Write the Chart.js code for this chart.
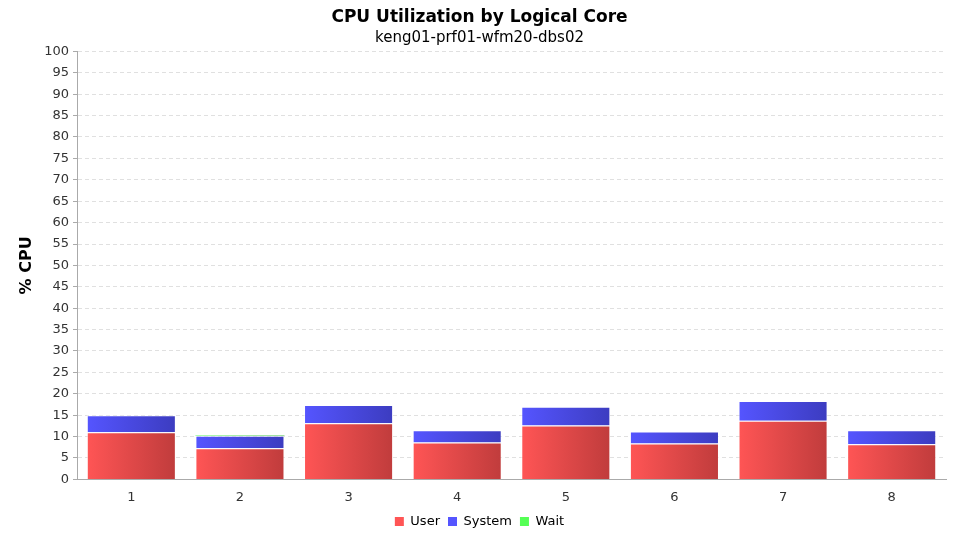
<!DOCTYPE html>
<html>
<head>
<meta charset="utf-8">
<script src="https://cdn.jsdelivr.net/npm/chart.js@4/dist/chart.umd.min.js"></script>
<style>
  body { margin: 0; background: #fff; }
  #wrap { width: 960px; height: 540px; }
</style>
</head>
<body>
<div id="wrap"><canvas id="cpu-chart"></canvas></div>
<script>
// data
const cores = ["1", "2", "3", "4", "5", "6", "7", "8"];
const userPct = [11.0, 7.3, 13.1, 8.6, 12.6, 8.4, 13.7, 8.2];
const systemPct = [4.0, 2.9, 4.3, 2.9, 4.4, 2.8, 4.6, 3.3];
const waitPct = [0, 0.1, 0, 0, 0, 0, 0, 0];

const FONT = "'DejaVu Sans', sans-serif";

// per-bar horizontal gradient, light on the left, dark on the right
const barGradient = {
  id: "barGradient",
  beforeDatasetsDraw(chart) {
    const ctx = chart.ctx;
    chart.data.datasets.forEach((ds, i) => {
      const meta = chart.getDatasetMeta(i);
      meta.data.forEach((el) => {
        const g = ctx.createLinearGradient(el.x - el.width / 2, 0, el.x + el.width / 2, 0);
        g.addColorStop(0, ds.lightColor);
        g.addColorStop(1, ds.darkColor);
        // options are shared between bars, so give each bar its own copy
        el.options = Object.assign({}, el.options, { backgroundColor: g });
      });
    });
  },
};

new Chart(document.getElementById("cpu-chart"), {
  type: "bar",
  data: {
    labels: cores,
    datasets: [
      {
        label: "User",
        data: userPct,
        backgroundColor: "#ff5555",
        lightColor: "#ff5555",
        darkColor: "#c03c3c",
        borderColor: "rgba(255,255,255,0.6)",
        borderWidth: 1,
      },
      {
        label: "System",
        data: systemPct,
        backgroundColor: "#5555ff",
        lightColor: "#5555ff",
        darkColor: "#3c3cc0",
        borderColor: "rgba(255,255,255,0.6)",
        borderWidth: 1,
      },
      {
        label: "Wait",
        data: waitPct,
        backgroundColor: "#55ff55",
        lightColor: "#55ff55",
        darkColor: "#3cc03c",
        borderWidth: 0,
      },
    ],
  },
  options: {
    responsive: true,
    maintainAspectRatio: false,
    animation: false,
    layout: { padding: { left: 13, right: 14, top: 5, bottom: 2 } },
    datasets: { bar: { barPercentage: 0.82, categoryPercentage: 1.0 } },
    plugins: {
      title: {
        display: true,
        text: "CPU Utilization by Logical Core",
        color: "#000",
        font: { family: FONT, size: 17, weight: "bold" },
        padding: { top: 2, bottom: 0 },
      },
      subtitle: {
        display: true,
        text: "keng01-prf01-wfm20-dbs02",
        color: "#000",
        font: { family: FONT, size: 15 },
        padding: { top: 2, bottom: 4 },
      },
      legend: {
        position: "bottom",
        labels: {
          boxWidth: 9,
          boxHeight: 9,
          color: "#222",
          font: { family: FONT, size: 13 },
          padding: 8,
          generateLabels(chart) {
            return chart.data.datasets.map((ds, i) => ({
              text: ds.label,
              fillStyle: ds.lightColor,
              strokeStyle: ds.lightColor,
              lineWidth: 0,
              datasetIndex: i,
            }));
          },
        },
      },
      tooltip: { enabled: false },
    },
    scales: {
      x: {
        stacked: true,
        grid: { display: false },
        border: { color: "#aaa" },
        ticks: { color: "#333", font: { family: FONT, size: 13 }, padding: 2 },
      },
      y: {
        stacked: true,
        min: 0,
        max: 100,
        ticks: { stepSize: 5, color: "#333", font: { family: FONT, size: 13 }, padding: 4 },
        grid: { color: "#e0e0e0", tickLength: 4, tickColor: "#aaa" },
        border: { color: "#aaa", dash: [4, 3] },
        title: {
          display: true,
          text: "% CPU",
          color: "#000",
          font: { family: FONT, size: 16, weight: "bold" },
        },
      },
    },
  },
  plugins: [barGradient],
});
</script>
</body>
</html>
